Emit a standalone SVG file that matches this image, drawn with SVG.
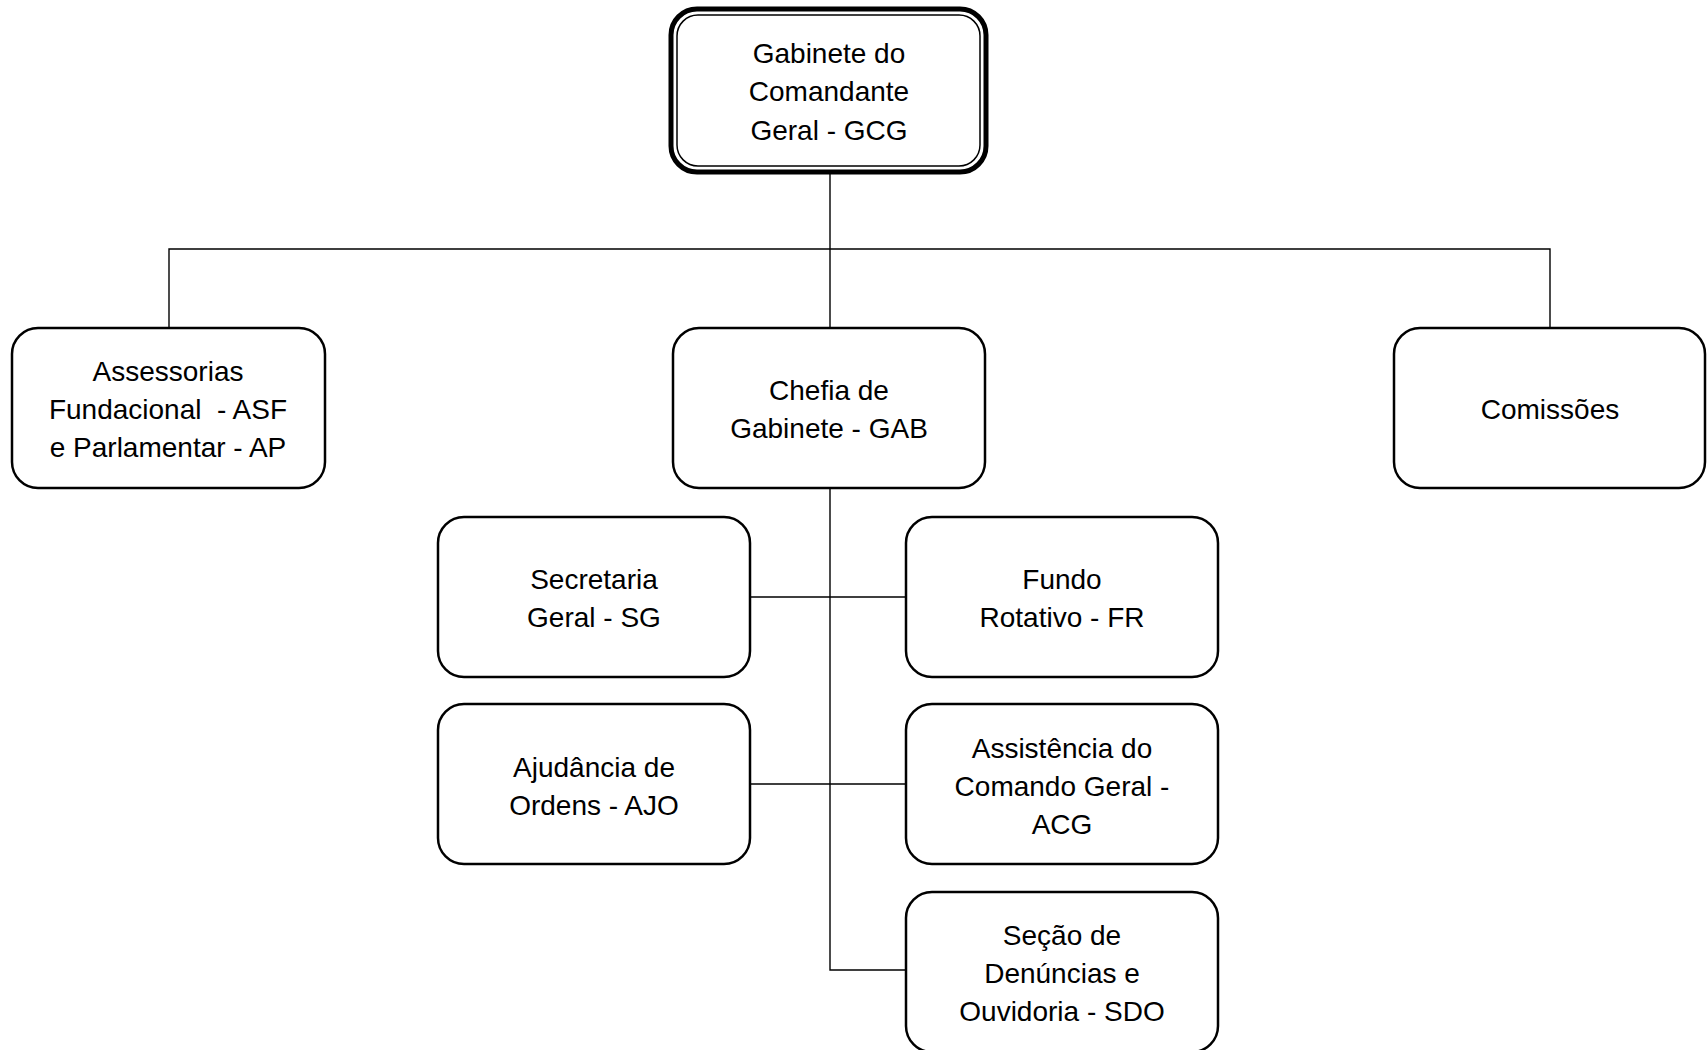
<svg xmlns="http://www.w3.org/2000/svg" width="1707" height="1050" viewBox="0 0 1707 1050">
<style>
.box{fill:#fff;stroke:#000;stroke-width:2.5}
.ln{fill:none;stroke:#000;stroke-width:1.4}
text{font-family:"Liberation Sans",Arial,sans-serif;font-size:28px;fill:#000;text-anchor:middle}
</style>
<rect width="1707" height="1050" fill="#fff"/>
<g id="connectors">
<path class="ln" d="M830 174V328M169 328V249H1550V328"/>
<path class="ln" d="M830 488V970H906M750 597H906M750 784H906"/>
</g>
<g id="gcg">
<rect x="671" y="9" width="315" height="163" rx="26" fill="#fff" stroke="#000" stroke-width="5"/>
<rect x="677" y="15" width="303" height="151" rx="21" fill="none" stroke="#000" stroke-width="1.5"/>
<text x="829" y="63">Gabinete do</text>
<text x="829" y="101">Comandante</text>
<text x="829" y="140">Geral - GCG</text>
</g>
<g id="asf">
<rect class="box" x="12" y="328" width="313" height="160" rx="26"/>
<text x="168" y="381">Assessorias</text>
<text x="168" y="419" xml:space="preserve">Fundacional  - ASF</text>
<text x="168" y="457">e Parlamentar - AP</text>
</g>
<g id="gab">
<rect class="box" x="673" y="328" width="312" height="160" rx="26"/>
<text x="829" y="400">Chefia de</text>
<text x="829" y="438">Gabinete - GAB</text>
</g>
<g id="comissoes">
<rect class="box" x="1394" y="328" width="311" height="160" rx="26"/>
<text x="1550" y="419">Comissões</text>
</g>
<g id="sg">
<rect class="box" x="438" y="517" width="312" height="160" rx="26"/>
<text x="594" y="589">Secretaria</text>
<text x="594" y="627">Geral - SG</text>
</g>
<g id="fr">
<rect class="box" x="906" y="517" width="312" height="160" rx="26"/>
<text x="1062" y="589">Fundo</text>
<text x="1062" y="627">Rotativo - FR</text>
</g>
<g id="ajo">
<rect class="box" x="438" y="704" width="312" height="160" rx="26"/>
<text x="594" y="777">Ajudância de</text>
<text x="594" y="815">Ordens - AJO</text>
</g>
<g id="acg">
<rect class="box" x="906" y="704" width="312" height="160" rx="26"/>
<text x="1062" y="758">Assistência do</text>
<text x="1062" y="796">Comando Geral -</text>
<text x="1062" y="834">ACG</text>
</g>
<g id="sdo">
<rect class="box" x="906" y="892" width="312" height="160" rx="26"/>
<text x="1062" y="945">Seção de</text>
<text x="1062" y="983">Denúncias e</text>
<text x="1062" y="1021">Ouvidoria - SDO</text>
</g>
</svg>
